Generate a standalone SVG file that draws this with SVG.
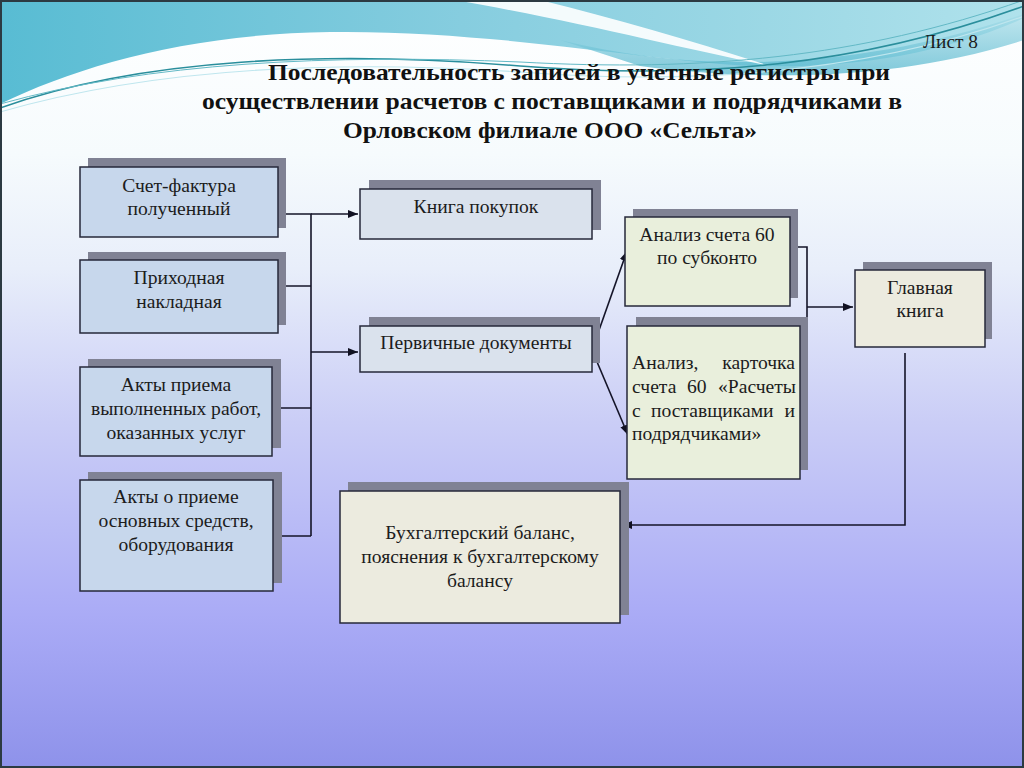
<svg xmlns="http://www.w3.org/2000/svg" width="1024" height="768" viewBox="0 0 1024 768">
<defs>
<linearGradient id="bg" x1="0" y1="0" x2="0" y2="1">
<stop offset="0" stop-color="#ffffff"/>
<stop offset="0.2" stop-color="#f6fbfd"/>
<stop offset="0.35" stop-color="#e8eefa"/>
<stop offset="0.55" stop-color="#cacdf6"/>
<stop offset="0.8" stop-color="#aaabf6"/>
<stop offset="1" stop-color="#8e92ea"/>
</linearGradient>
<linearGradient id="teal" x1="0" y1="0" x2="1" y2="0">
<stop offset="0" stop-color="#58bcd3"/>
<stop offset="0.45" stop-color="#86cddf"/>
<stop offset="0.75" stop-color="#9cd8e5"/>
<stop offset="1" stop-color="#b0e2ec"/>
</linearGradient>
<linearGradient id="teal2" x1="0" y1="0" x2="0" y2="1">
<stop offset="0" stop-color="#a6dce8"/>
<stop offset="1" stop-color="#4ab2ca"/>
</linearGradient>
<marker id="arr" viewBox="0 0 10 10" refX="10" refY="5" markerWidth="10" markerHeight="10" markerUnits="userSpaceOnUse" orient="auto">
<path d="M0,1 L10,5 L0,9 Z" fill="#111122"/>
</marker>
<style>
.sh{fill:#808294}
.bx{stroke:#26283a;stroke-width:1.5}
.blue{fill:#c7d7ec}
.gb{fill:#dae2ed}
.gr{fill:#e9efdc}
.be{fill:#ecebdf}
.t{font-family:"Liberation Serif","Times New Roman",serif;font-size:19.6px;fill:#1c1c1c}
.c{text-anchor:middle}
.e{text-anchor:end}
.ttl{font-family:"Liberation Serif","Times New Roman",serif;font-size:24px;font-weight:bold;fill:#111}
.ln{fill:none;stroke:#141428;stroke-width:1.6}
</style>
</defs>
<rect x="0" y="0" width="1024" height="768" fill="url(#bg)"/>
<!-- top decoration -->
<path d="M0,0 H1024 V18 C930,60 820,72 720,64 C610,54 470,30 330,32 C190,34 80,65 0,104 Z" fill="url(#teal)"/>
<path d="M560,40 C700,75 860,70 1024,14 V40 C900,80 760,82 640,66 Z" fill="url(#teal2)" opacity="0.7"/>
<path d="M455,0 H540 C620,20 690,40 770,66 C680,48 580,22 455,0 Z" fill="#ffffff" opacity="0.9"/>
<path d="M0,108 C140,58 330,50 520,66 C700,80 860,66 1024,6" fill="none" stroke="#2a8e9c" stroke-width="1.6"/>
<path d="M0,104 C150,62 330,54 520,62 C700,72 860,58 1024,0" fill="none" stroke="#63b9c6" stroke-width="1"/>
<path d="M0,112 C160,66 340,60 520,72 C700,86 870,72 1024,16" fill="none" stroke="#bfe6ee" stroke-width="1.2"/>
<rect x="1" y="1" width="1022" height="766" fill="none" stroke="#2c3a42" stroke-width="2"/>

<text class="t" x="978" y="48" text-anchor="end" font-size="18" textLength="55" lengthAdjust="spacingAndGlyphs">Лист 8</text>
<g id="title">
<text class="ttl" x="268" y="80" textLength="622" lengthAdjust="spacingAndGlyphs">Последовательность записей в учетные регистры при</text>
<text class="ttl" x="202" y="109" textLength="700" lengthAdjust="spacingAndGlyphs">осуществлении расчетов с поставщиками и подрядчиками в</text>
<text class="ttl" x="343" y="138" textLength="414" lengthAdjust="spacingAndGlyphs">Орловском филиале ООО «Сельта»</text>
</g>

<g id="connectors">
<path class="ln" d="M278,214 H311 V536"/>
<path class="ln" d="M311,214 H358" marker-end="url(#arr)"/>
<path class="ln" d="M278,286 H311"/>
<path class="ln" d="M272,408 H311"/>
<path class="ln" d="M273,536 H311"/>
<path class="ln" d="M311,352 H358" marker-end="url(#arr)"/>
<path class="ln" d="M592,350 L627,251" marker-end="url(#arr)"/>
<path class="ln" d="M592,350 L628,435" marker-end="url(#arr)"/>
<path class="ln" d="M790,247 H807 V386 H793"/>
<path class="ln" d="M807,307 H853" marker-end="url(#arr)"/>
<path class="ln" d="M905,353 V525 H622" marker-end="url(#arr)"/>
</g>

<g id="n1">
<rect class="sh" x="88" y="158" width="198" height="70"/>
<rect class="bx blue" x="80" y="167" width="198" height="70"/>
<text class="t c" x="179" y="192">Счет-фактура</text>
<text class="t c" x="179" y="215">полученный</text>
</g>
<g id="n2">
<rect class="sh" x="88" y="252" width="198" height="73"/>
<rect class="bx blue" x="80" y="260" width="198" height="73"/>
<text class="t c" x="179" y="284">Приходная</text>
<text class="t c" x="179" y="308">накладная</text>
</g>
<g id="n3">
<rect class="sh" x="88" y="359" width="193" height="89"/>
<rect class="bx blue" x="80" y="367" width="192" height="89"/>
<text class="t c" x="176" y="391">Акты приема</text>
<text class="t c" x="176" y="415">выполненных работ,</text>
<text class="t c" x="176" y="439">оказанных услуг</text>
</g>
<g id="n4">
<rect class="sh" x="88" y="472" width="194" height="111"/>
<rect class="bx blue" x="80" y="480" width="193" height="111"/>
<text class="t c" x="176" y="503">Акты о приеме</text>
<text class="t c" x="176" y="527">основных средств,</text>
<text class="t c" x="176" y="551">оборудования</text>
</g>
<g id="n5">
<rect class="sh" x="369" y="180" width="232" height="50"/>
<rect class="bx gb" x="360" y="189" width="232" height="50"/>
<text class="t c" x="476" y="213">Книга покупок</text>
</g>
<g id="n6">
<rect class="sh" x="369" y="317" width="231" height="46"/>
<rect class="bx gb" x="360" y="326" width="232" height="46"/>
<text class="t c" x="476" y="349">Первичные документы</text>
</g>
<g id="n7">
<rect class="sh" x="633" y="209" width="165" height="89"/>
<rect class="bx gr" x="625" y="217" width="165" height="89"/>
<text class="t c" x="707" y="241">Анализ счета 60</text>
<text class="t c" x="707" y="264">по субконто</text>
</g>
<g id="n8">
<rect class="sh" x="636" y="317" width="172" height="153"/>
<rect class="bx gr" x="627" y="326" width="173" height="153"/>
<text class="t" x="632" y="369">Анализ,</text>
<text class="t e" x="795" y="369">карточка</text>
<text class="t" x="632" y="393">счета</text>
<text class="t" x="687" y="393">60</text>
<text class="t e" x="796" y="393">«Расчеты</text>
<text class="t" x="632" y="417">с</text>
<text class="t" x="651" y="417">поставщиками</text>
<text class="t e" x="795" y="417">и</text>
<text class="t" x="632" y="440">подрядчиками»</text>
</g>
<g id="n9">
<rect class="sh" x="863" y="262" width="129" height="77"/>
<rect class="bx be" x="855" y="270" width="130" height="77"/>
<text class="t c" x="920" y="294">Главная</text>
<text class="t c" x="920" y="317">книга</text>
</g>
<g id="n10">
<rect class="sh" x="348" y="482" width="281" height="133"/>
<rect class="bx be" x="340" y="491" width="280" height="132"/>
<text class="t c" x="480" y="539">Бухгалтерский баланс,</text>
<text class="t c" x="480" y="563">пояснения к бухгалтерскому</text>
<text class="t c" x="480" y="587">балансу</text>
</g>
</svg>
